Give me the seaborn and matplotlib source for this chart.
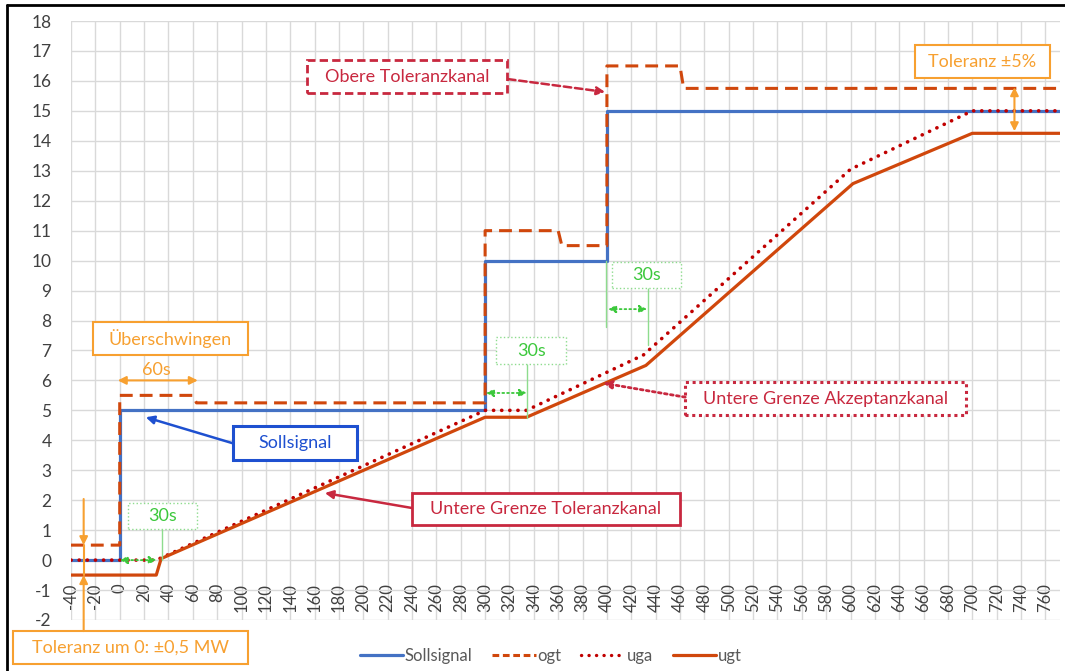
import matplotlib
matplotlib.use("Agg")
import matplotlib.pyplot as plt
from matplotlib.lines import Line2D
from matplotlib.patches import Rectangle
import seaborn as sns

sns.set_theme(style="whitegrid")
plt.rcParams["font.family"] = ["Lato", "DejaVu Sans"]
plt.rcParams["axes.unicode_minus"] = False

# Daten (Zeit in s, Leistung in MW)
zeit_soll = [-40, 0, 0, 300, 300, 400, 400, 772]
sollsignal = [0, 0, 5, 5, 10, 10, 15, 15]

zeit_ogt = [-40, 0, 0, 60, 63, 300, 300, 360, 363, 400, 400, 460, 463, 772]
ogt = [0.5, 0.5, 5.5, 5.5, 5.25, 5.25, 11, 11, 10.5, 10.5, 16.5, 16.5, 15.75, 15.75]

zeit_uga = [-40, 30, 300, 334, 430, 600, 700, 772]
uga = [0, 0, 5, 5, 6.85, 13.05, 15, 15]

zeit_ugt = [-40, 30, 34, 300, 334, 432, 602, 700, 772]
ugt = [-0.5, -0.5, 0.05, 4.77, 4.77, 6.5, 12.57, 14.25, 14.25]

x_ticks = list(range(-40, 761, 20))
y_ticks = list(range(-2, 19))

BLAU = "#4472C4"
ROTORANGE = "#D0470C"
DUNKELROT = "#C00000"
KARMIN = "#C8283F"
ORANGE = "#F7A030"
GRUEN = "#3CC83C"
GRUEN_HELL = "#8EDC8E"
BOXBLAU = "#1E50D0"

PUNKTE = (0, (0.05, 2.2))
STRICHE = (0, (4.2, 2.3))


def kasten(ax, x0, x1, y0, y1, text, rand, farbe, ls="-", lw=1.5, size=13):
    ax.add_patch(Rectangle((x0, y0), x1 - x0, y1 - y0, facecolor="white",
                           edgecolor=rand, linestyle=ls, lw=lw, zorder=6,
                           clip_on=False))
    ax.text((x0 + x1) / 2, (y0 + y1) / 2, text, ha="center", va="center",
            color=farbe, fontsize=size, zorder=7, clip_on=False)


def pfeil(ax, start, ziel, farbe, ls="-", beide=False, lw=1.5, kopf=12):
    ax.annotate("", xy=ziel, xytext=start, annotation_clip=False, zorder=6,
                arrowprops=dict(arrowstyle="<|-|>" if beide else "-|>",
                                color=farbe, lw=lw, linestyle=ls,
                                shrinkA=0, shrinkB=0, mutation_scale=kopf))


fig, ax = plt.subplots(figsize=(10.65, 6.71), dpi=100)
fig.subplots_adjust(left=71 / 1065, right=1060 / 1065,
                    top=1 - 21 / 671, bottom=1 - 620 / 671)

sns.lineplot(x=zeit_soll, y=sollsignal, ax=ax, estimator=None, sort=False,
             color=BLAU, lw=2.3, zorder=3)
sns.lineplot(x=zeit_ogt, y=ogt, ax=ax, estimator=None, sort=False,
             color=ROTORANGE, lw=2.2, linestyle=STRICHE, zorder=4)
sns.lineplot(x=zeit_uga, y=uga, ax=ax, estimator=None, sort=False,
             color=DUNKELROT, lw=2.6, linestyle=PUNKTE,
             dash_capstyle="round", zorder=4)
sns.lineplot(x=zeit_ugt, y=ugt, ax=ax, estimator=None, sort=False,
             color=ROTORANGE, lw=2.3, zorder=4)

ax.set_xlim(-40, 772)
ax.set_ylim(-2, 18)
ax.set_xticks(x_ticks)
ax.set_yticks(y_ticks)
ax.grid(True, color="#D9D9D9", lw=1.0)
ax.set_axisbelow(True)
for s in ax.spines.values():
    s.set_visible(False)
ax.spines["bottom"].set_position(("data", -0.68))
ax.tick_params(axis="x", rotation=90, length=0, pad=2, labelsize=12,
               labelcolor="#404040")
ax.tick_params(axis="y", length=0, pad=14, labelsize=12.5,
               labelcolor="#404040")
ax.set_xlabel("")
ax.set_ylabel("")

# Beschriftungen
kasten(ax, 153.7, 318.0, 15.59, 16.69, "Obere Toleranzkanal", KARMIN, KARMIN,
       ls=(0, (3, 1.5)), lw=2)
pfeil(ax, (318.8, 16.06), (398.5, 15.63), KARMIN, ls=(0, (3, 1.5)), lw=1.8)

kasten(ax, 653.2, 763.4, 16.09, 17.2, "Toleranz ±5%", ORANGE, ORANGE)
pfeil(ax, (734.6, 15.79), (734.6, 14.32), ORANGE, beide=True)

kasten(ax, -22.2, 105.2, 6.84, 7.95, "Überschwingen", ORANGE, ORANGE)
ax.text(30.4, 6.34, "60s", ha="center", va="center", color=ORANGE, fontsize=13)
pfeil(ax, (-1.6, 6.0), (64.1, 6.0), ORANGE, beide=True)

kasten(ax, 92.9, 194.6, 3.34, 4.47, "Sollsignal", BOXBLAU, BOXBLAU, lw=2.2)
pfeil(ax, (92.9, 3.9), (21.4, 4.77), BOXBLAU, lw=1.8)

kasten(ax, 239.9, 460.1, 1.17, 2.24, "Untere Grenze Toleranzkanal", KARMIN,
       KARMIN, lw=2)
pfeil(ax, (239.9, 1.74), (168.4, 2.24), KARMIN, lw=1.8)

kasten(ax, 464.3, 695.2, 4.84, 5.94, "Untere Grenze Akzeptanzkanal", KARMIN,
       KARMIN, ls=(0, (1, 1.2)), lw=2.2)
pfeil(ax, (464.3, 5.44), (396.9, 5.91), KARMIN, ls=(0, (1, 1.2)), lw=2)

# 30s-Markierungen
kasten(ax, 6.6, 63.3, 1.04, 1.9, "30s", GRUEN_HELL, GRUEN, ls=":", lw=1)
ax.plot([34.5, 34.5], [1.04, 0], color=GRUEN_HELL, lw=1, zorder=5)
pfeil(ax, (0, 0), (30.4, 0), GRUEN, ls=":", beide=True, lw=1.3, kopf=11)

kasten(ax, 309, 366.5, 6.54, 7.45, "30s", GRUEN_HELL, GRUEN, ls=":", lw=1)
ax.plot([334.4, 334.4], [6.54, 4.74], color=GRUEN_HELL, lw=1, zorder=5)
pfeil(ax, (300.7, 5.58), (334.4, 5.58), GRUEN, ls=":", beide=True, lw=1.3,
      kopf=11)

kasten(ax, 404.3, 461, 9.08, 9.95, "30s", GRUEN_HELL, GRUEN, ls=":", lw=1)
ax.plot([399.3, 399.3], [10.0, 7.78], color=GRUEN_HELL, lw=1, zorder=5)
ax.plot([433.8, 433.8], [9.08, 7.18], color=GRUEN_HELL, lw=1, zorder=5)
pfeil(ax, (401, 8.38), (433, 8.38), GRUEN, ls=":", beide=True, lw=1.3, kopf=11)

# Toleranz um 0
kasten(ax, -87.9, 105.2, -2.37, -3.47, "Toleranz um 0: ±0,5 MW", ORANGE,
       ORANGE)
pfeil(ax, (-29.6, 2.04), (-29.6, 0.5), ORANGE)
pfeil(ax, (-29.6, -2.37), (-29.6, -0.5), ORANGE)
ax.plot([-29.6, -29.6], [0.5, -0.5], color=ORANGE, lw=1.5, zorder=6)

# Legende
griffe = [
    Line2D([], [], color=BLAU, lw=2.3),
    Line2D([], [], color=ROTORANGE, lw=2.2, linestyle=(0, (2.2, 1.2))),
    Line2D([], [], color=DUNKELROT, lw=2.4, linestyle=PUNKTE,
           dash_capstyle="round"),
    Line2D([], [], color=ROTORANGE, lw=2.3),
]
fig.legend(griffe, ["Sollsignal", "ogt", "uga", "ugt"], loc="center",
           bbox_to_anchor=(0.517, 1 - 656 / 671), ncol=4, frameon=False,
           fontsize=12, handlelength=2.6, handletextpad=0.1, columnspacing=1.2,
           labelcolor="#595959")

# Rahmen links und oben
fig.add_artist(Line2D([7 / 1065, 7 / 1065], [0, 1 - 5 / 671],
                      transform=fig.transFigure, color="black", lw=2))
fig.add_artist(Line2D([7 / 1065, 1], [1 - 5 / 671, 1 - 5 / 671],
                      transform=fig.transFigure, color="black", lw=2))

fig.savefig("out.png", dpi=100)
